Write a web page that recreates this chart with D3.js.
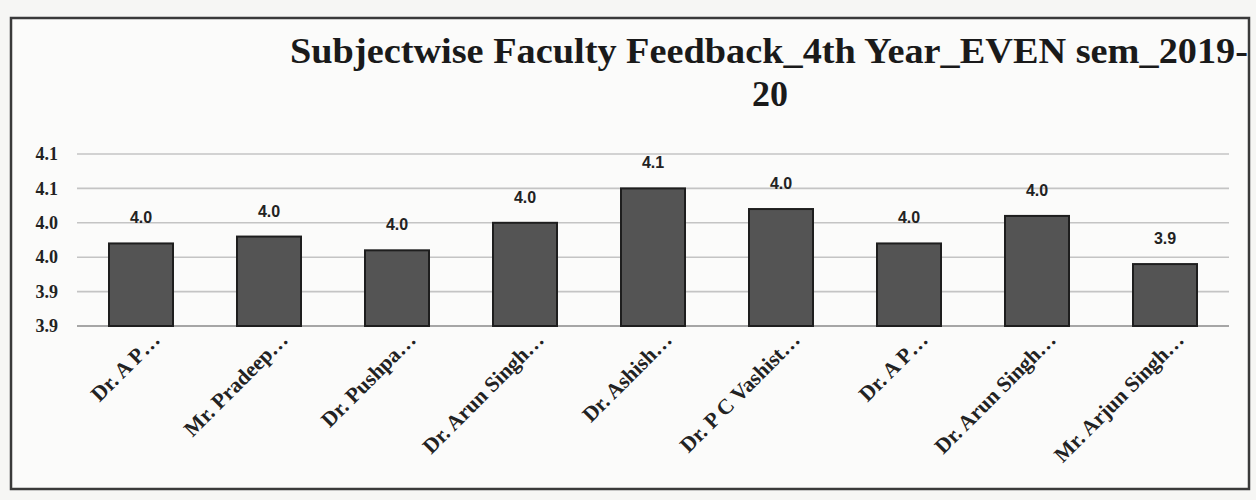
<!DOCTYPE html>
<html>
<head>
<meta charset="utf-8">
<script src="https://cdn.jsdelivr.net/npm/d3@7"></script>
<style>
  html, body { margin: 0; padding: 0; background: #f6f6f4; }
  svg { display: block; }
</style>
</head>
<body>
<svg id="chart" width="1256" height="500"></svg>
<script>
// Faculty names (truncated as shown on the category axis)
const faculty = [
  "Dr. A P\u2026", "Mr. Pradeep\u2026", "Dr. Pushpa\u2026", "Dr. Arun Singh\u2026",
  "Dr. Ashish\u2026", "Dr. P C Vashist\u2026", "Dr. A P\u2026", "Dr. Arun Singh\u2026",
  "Mr. Arjun Singh\u2026"
];
// Average feedback score per subject
const scores = [3.97, 3.98, 3.96, 4.00, 4.05, 4.02, 3.97, 4.01, 3.94];
// Value-axis ticks
const yTicks = [3.85, 3.90, 3.95, 4.00, 4.05, 4.10];
const titleLines = ["Subjectwise Faculty Feedback_4th Year_EVEN sem_2019-", "20"];

const svg = d3.select("#chart");
const plot = { left: 77, right: 1229, top: 154, bottom: 326 };
const serif = "'Liberation Serif', 'DejaVu Serif', serif";
const sans = "'Liberation Sans', Arial, sans-serif";
// one-decimal label with half-up rounding
const fmt1 = d => (Math.round(d * 10 + 1e-9) / 10).toFixed(1);

// chart frame
svg.append("rect")
  .attr("x", 11).attr("y", 18)
  .attr("width", 1238).attr("height", 471)
  .attr("fill", "#fbfbfa")
  .attr("stroke", "#3a3a3a")
  .attr("stroke-width", 2.5);

// title, two lines
svg.append("text")
  .attr("x", 769).attr("y", 63)
  .attr("text-anchor", "middle")
  .attr("font-family", serif)
  .attr("font-weight", "bold")
  .attr("font-size", 36)
  .attr("fill", "#1a1a1a")
  .attr("textLength", 958)
  .attr("lengthAdjust", "spacingAndGlyphs")
  .text(titleLines[0]);
svg.append("text")
  .attr("x", 770).attr("y", 106)
  .attr("text-anchor", "middle")
  .attr("font-family", serif)
  .attr("font-weight", "bold")
  .attr("font-size", 36)
  .attr("fill", "#1a1a1a")
  .text(titleLines[1]);

const x = d3.scaleBand()
  .domain(d3.range(faculty.length))
  .range([plot.left, plot.right])
  .paddingInner(0.5)
  .paddingOuter(0.25);

const y = d3.scaleLinear()
  .domain([3.85, 4.10])
  .range([plot.bottom, plot.top]);

// gridlines
svg.append("g")
  .selectAll("line")
  .data(yTicks)
  .join("line")
  .attr("x1", plot.left).attr("x2", plot.right)
  .attr("y1", d => y(d)).attr("y2", d => y(d))
  .attr("stroke", d => d === 3.85 ? "#8a8a8a" : "#c4c4c4")
  .attr("stroke-width", 1.6);

// value axis labels
const yAxis = d3.axisLeft(y)
  .tickValues(yTicks)
  .tickSize(0)
  .tickPadding(0)
  .tickFormat(fmt1);
const yg = svg.append("g")
  .attr("transform", `translate(58,0)`)
  .call(yAxis);
yg.select(".domain").remove();
yg.selectAll("text")
  .attr("font-family", serif)
  .attr("font-weight", "bold")
  .attr("font-size", 18)
  .attr("fill", "#222");

// bars
svg.append("g")
  .selectAll("rect")
  .data(scores)
  .join("rect")
  .attr("x", (d, i) => x(i))
  .attr("y", d => y(d))
  .attr("width", x.bandwidth())
  .attr("height", d => y(3.85) - y(d))
  .attr("fill", "#545454")
  .attr("stroke", "#1e1e1e")
  .attr("stroke-width", 2);

// data labels
svg.append("g")
  .selectAll("text")
  .data(scores)
  .join("text")
  .attr("x", (d, i) => x(i) + x.bandwidth() / 2)
  .attr("y", d => y(d) - 20)
  .attr("text-anchor", "middle")
  .attr("font-family", sans)
  .attr("font-weight", "bold")
  .attr("font-size", 16)
  .attr("fill", "#222")
  .text(fmt1);

// category labels, rotated
const xAxis = d3.axisBottom(x)
  .tickSize(0)
  .tickFormat(i => faculty[i]);
const xg = svg.append("g")
  .attr("transform", `translate(0,${plot.bottom})`)
  .call(xAxis);
xg.select(".domain").remove();
xg.selectAll("text")
  .attr("font-family", serif)
  .attr("font-weight", "bold")
  .attr("font-size", 21.5)
  .attr("fill", "#222")
  .attr("text-anchor", "end")
  .attr("dy", 0)
  .attr("transform", "translate(18,13) rotate(-45)");
</script>
</body>
</html>
